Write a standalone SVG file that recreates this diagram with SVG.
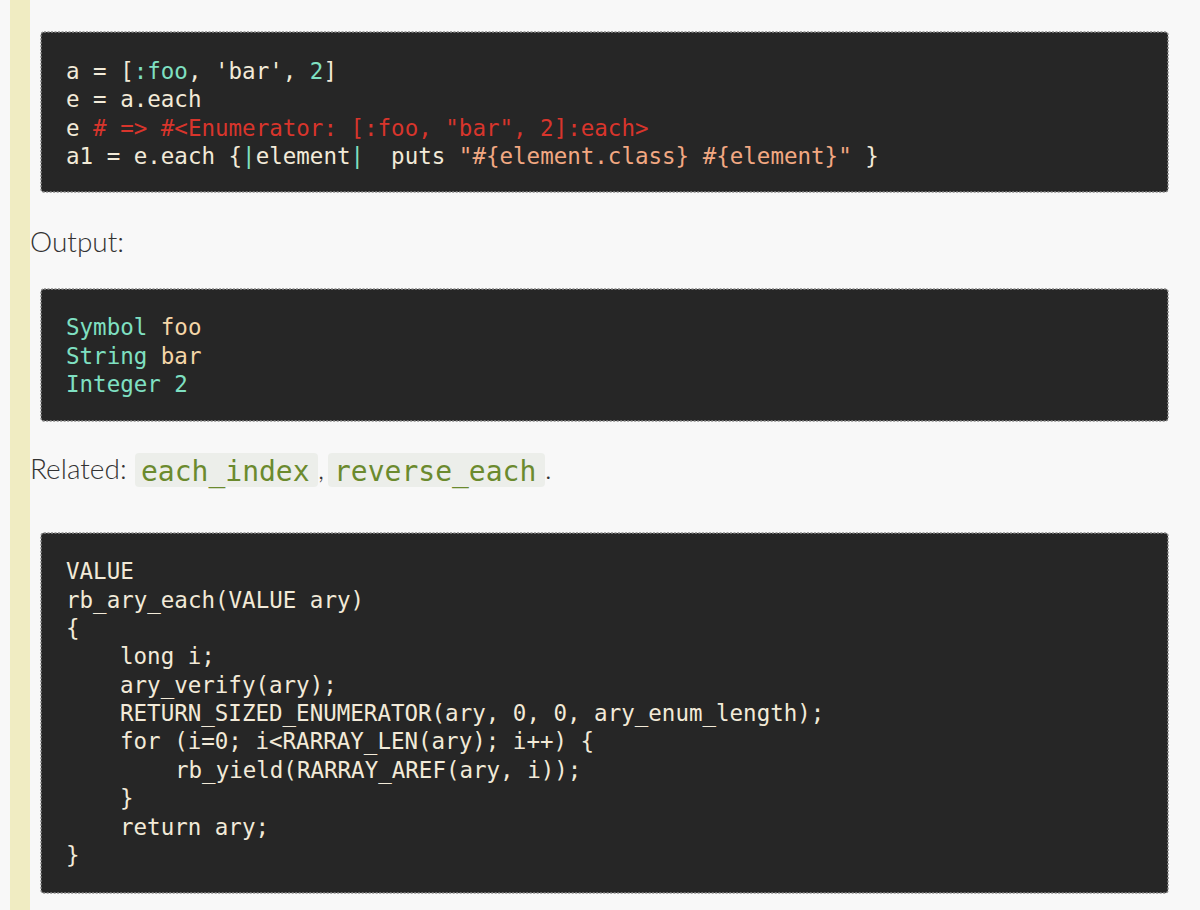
<svg xmlns="http://www.w3.org/2000/svg" width="1200" height="910" viewBox="0 0 1200 910">
<style>
.blk{fill:#262626;stroke:#8a8a8a;stroke-width:1.5;stroke-dasharray:2 1.5}
.m{font-family:"DejaVu Sans Mono",monospace;font-size:22.5px;fill:#f2ead8}
.t{fill:#7fe0c2}.r{fill:#d8352c}.s{fill:#f2a882}.y{fill:#f5d6a8}
.p{font-family:Lato,"Liberation Sans",sans-serif;font-size:28px;font-weight:300;fill:#333}
.c{font-family:"DejaVu Sans Mono",monospace;font-size:28px;fill:#6b8a2e}
</style>
<rect width="1200" height="910" fill="#f8f8f8"/>
<rect x="10" y="0" width="20" height="910" fill="#f0ecc2"/>
<rect class="blk" x="41" y="32" width="1127" height="160" rx="3"/>
<text class="m" x="66" y="79">a = [<tspan class="t">:foo</tspan>, 'bar', <tspan class="t">2</tspan>]</text>
<text class="m" x="66" y="107">e = a.each</text>
<text class="m" x="66" y="136">e <tspan class="r"># =&gt; #&lt;Enumerator: [:foo, "bar", 2]:each&gt;</tspan></text>
<text class="m" x="66" y="164" xml:space="preserve">a1 = e.each {<tspan class="t">|</tspan>element<tspan class="t">|</tspan>  puts <tspan class="s">"#{element.class} #{element}"</tspan> }</text>
<text class="p" x="30" y="252">Output:</text>
<rect class="blk" x="41" y="289" width="1127" height="132" rx="3"/>
<text class="m t" x="66" y="335">Symbol <tspan class="y">foo</tspan></text>
<text class="m t" x="66" y="364">String <tspan class="y">bar</tspan></text>
<text class="m t" x="66" y="392">Integer 2</text>
<text class="p" x="30" y="479">Related:</text>
<rect x="135" y="453" width="183" height="34" rx="4" fill="#eceeea"/>
<rect x="328" y="453" width="217" height="34" rx="4" fill="#eceeea"/>
<text class="c" x="141" y="481">each_index</text>
<text class="p" x="318" y="479">,</text>
<text class="c" x="334" y="481">reverse_each</text>
<text class="p" x="545" y="479">.</text>
<rect class="blk" x="41" y="533" width="1127" height="360" rx="3"/>
<g class="m">
<text x="66" y="579">VALUE</text>
<text x="66" y="608">rb_ary_each(VALUE ary)</text>
<text x="66" y="636">{</text>
<text x="120" y="664">long i;</text>
<text x="120" y="693">ary_verify(ary);</text>
<text x="120" y="721">RETURN_SIZED_ENUMERATOR(ary, 0, 0, ary_enum_length);</text>
<text x="120" y="749">for (i=0; i&lt;RARRAY_LEN(ary); i++) {</text>
<text x="175" y="778">rb_yield(RARRAY_AREF(ary, i));</text>
<text x="120" y="806">}</text>
<text x="120" y="835">return ary;</text>
<text x="66" y="863">}</text>
</g>
</svg>
